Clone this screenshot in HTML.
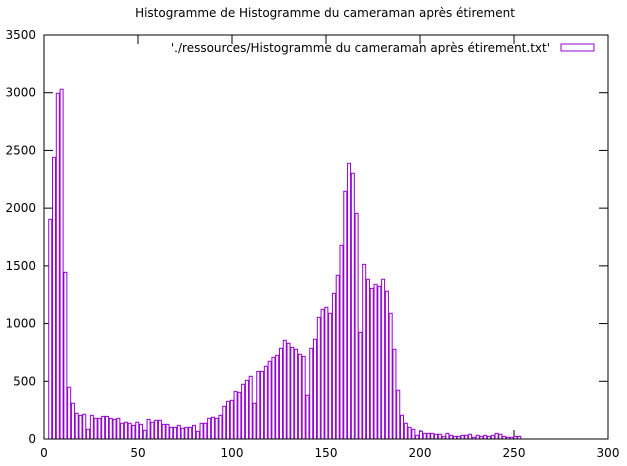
<!DOCTYPE html>
<html><head><meta charset="utf-8"><style>
html,body{margin:0;padding:0;background:#fff;}
svg{display:block;font-family:"DejaVu Sans",sans-serif;}
</style></head><body>
<svg id="chart" width="627" height="466" viewBox="0 0 627 466">
<text x="325" y="17" text-anchor="middle" font-size="12">Histogramme de Histogramme du cameraman après étirement</text>
<g id="axes"></g>
<g id="bars"></g>
<rect x="44" y="35" width="564" height="404" fill="none" stroke="#000" stroke-width="1"/>
<g>
<text x="550" y="52" text-anchor="end" font-size="12">'./ressources/Histogramme du cameraman après étirement.txt'</text>
<rect x="561" y="44" width="33" height="7" fill="#fff" stroke="#9400d3" stroke-width="1"/>
</g>
</svg>
<script>
const bins = [3,5,7,9,11,13,15,17,19,21,23,25,27,29,31,33,35,37,39,41,43,45,47,49,51,53,55,57,59,61,63,65,67,69,71,73,75,77,79,81,83,85,87,89,91,93,95,97,99,101,103,105,107,109,111,113,115,117,119,121,123,125,127,129,131,133,135,137,139,141,143,145,147,149,151,153,155,157,159,161,163,165,167,169,171,173,175,177,179,181,183,185,187,189,191,193,195,197,199,201,203,205,207,209,211,213,215,217,219,221,223,225,227,229,231,233,235,237,239,241,243,245,247,249,251];
const counts = [1903,2440,2995,3030,1444,448,310,223,205,214,84,205,179,179,196,196,179,170,179,136,145,136,118,145,127,75,170,145,162,162,127,127,101,101,118,93,101,101,118,67,
136,136,179,188,179,205,283,326,335,413,404,474,508,543,309,586,586,630,673,708,725,786,855,829,794,777,734,716,379,786,864,
1054,1124,1141,1089,1262,1418,1678,2146,2388,2302,1955,924,1513,1384,1305,1340,1323,1384,1280,1089,777,422,205,136,101,84,32,67,49,49,
49,41,41,23,49,32,23,23,32,32,41,15,32,23,32,23,32,49,41,23,15,15,23,23];
const xTicks = [0,50,100,150,200,250,300];
const yTicks = [0,500,1000,1500,2000,2500,3000,3500];
const X0=44,X1=608,Y0=439,Y1=35;
function xs(v){return X0+(v*1.006+0.3)*(X1-X0)/300;}
function xa(v){return X0+v*(X1-X0)/300;}
function ys(v){return Y0-v*(Y0-Y1)/3500;}
const NS="http://www.w3.org/2000/svg";
const axes=document.getElementById('axes');
function mk(tag,attrs,parent){const e=document.createElementNS(NS,tag);for(const k in attrs)e.setAttribute(k,attrs[k]);parent.appendChild(e);return e;}
yTicks.forEach(t=>{
  const y=ys(t);
  const l1=mk('line',{x1:X0,x2:X0+9,y1:y,y2:y,stroke:'#000'},axes);
  
  
  const l2=mk('line',{x1:X1-9,x2:X1,y1:y,y2:y,stroke:'#000'},axes);
  
  
  const tx=mk('text',{x:X0-8,y:y+4,'text-anchor':'end','font-size':'12'},axes);
  tx.textContent=t;
  
  
});
xTicks.forEach(t=>{
  const x=xa(t);
  const l1=mk('line',{x1:x,x2:x,y1:Y0,y2:Y0-9,stroke:'#000'},axes);
  
  
  const l2=mk('line',{x1:x,x2:x,y1:Y1,y2:Y1+9,stroke:'#000'},axes);
  
  
  const tx=mk('text',{x:x,y:Y0+18,'text-anchor':'middle','font-size':'12'},axes);
  tx.textContent=t;
  
  
});
const bg=document.getElementById('bars');
bins.forEach((b,i)=>{
  const c=xs(b), y=ys(counts[i]);
  const r=mk('rect',{x:(c-1.5).toFixed(2),y:y.toFixed(2),width:3,height:(Y0-y).toFixed(2),fill:'#fff',stroke:'#9400d3','stroke-width':1},bg);
  
  
});
</script>
</body></html>
